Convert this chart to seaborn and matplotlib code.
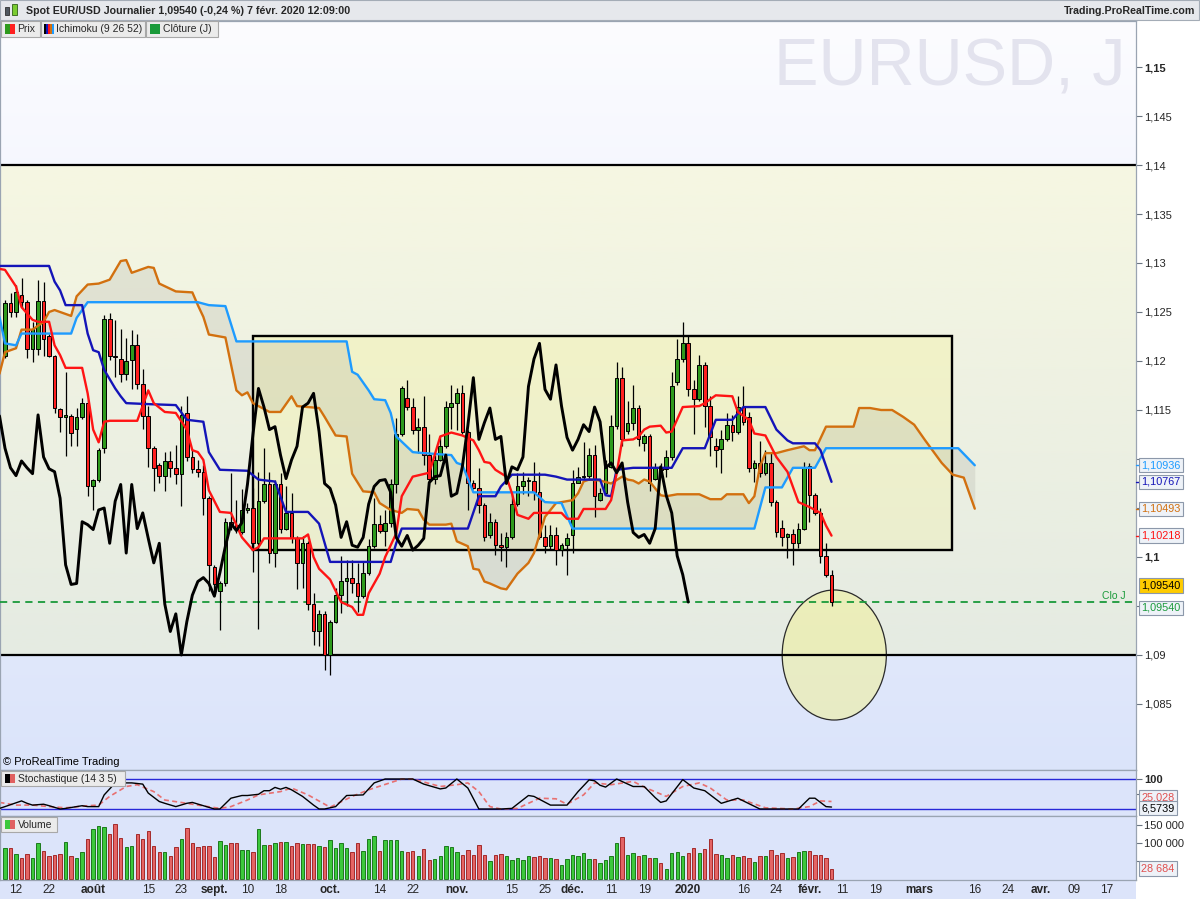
import warnings
warnings.filterwarnings("ignore")

import numpy as np
import pandas as pd
import matplotlib
matplotlib.use("Agg")
import matplotlib.pyplot as plt
import matplotlib.colors as mcolors
import matplotlib.transforms as mtransforms
from matplotlib.patches import Rectangle, Ellipse
import seaborn as sns

# ---------------------------------------------------------------- data
first_session = "2019-07-10"
calendar_end = "2020-05-01"
closed_days = ["2019-12-25", "2020-01-01"]

opens = [
    1.1205, 1.1259, 1.1250, 1.1267, 1.1260, 1.1212, 1.1212, 1.1261, 1.1226, 1.1205,
    1.1151, 1.1143, 1.1144, 1.1131, 1.1143, 1.1157, 1.1072, 1.1079, 1.1111, 1.1243,
    1.1205, 1.1202, 1.1187, 1.1201, 1.1216, 1.1177, 1.1144, 1.1111, 1.1094, 1.1083,
    1.1098, 1.1091, 1.1085, 1.1147, 1.1102, 1.1090, 1.1087, 1.1060, 1.0990, 1.0965,
    1.0973, 1.1036, 1.1033, 1.1025, 1.1048, 1.1050, 1.1014, 1.1057, 1.1074, 1.1004,
    1.1074, 1.1029, 1.1045, 1.1019, 1.0994, 1.1014, 1.0952, 1.0924, 1.0942, 1.0900,
    1.0934, 1.0961, 1.0975, 1.0979, 1.0973, 1.0960, 1.0984, 1.1011, 1.1034, 1.1027,
    1.1035, 1.1074, 1.1125, 1.1162, 1.1153, 1.1130, 1.1133, 1.1104, 1.1080, 1.1099,
    1.1113, 1.1153, 1.1157, 1.1167, 1.1128, 1.1075, 1.1070, 1.1053, 1.1022, 1.1036,
    1.1012, 1.1010, 1.1020, 1.1054, 1.1072, 1.1078, 1.1078, 1.1066, 1.1020, 1.1011,
    1.1022, 1.1007, 1.1012, 1.1022, 1.1076, 1.1082, 1.1083, 1.1104, 1.1058, 1.1065,
    1.1092, 1.1134, 1.1183, 1.1129, 1.1137, 1.1152, 1.1116, 1.1123, 1.1080, 1.1092,
    1.1090, 1.1102, 1.1179, 1.1202, 1.1218, 1.1171, 1.1161, 1.1196, 1.1154, 1.1113,
    1.1110, 1.1120, 1.1135, 1.1128, 1.1153, 1.1143, 1.1091, 1.1096, 1.1086, 1.1096,
    1.1056, 1.1030, 1.1020, 1.1023, 1.1014, 1.1029, 1.1093, 1.1063, 1.1045, 1.1001,
    1.0982,
]
highs = [
    1.1262, 1.1269, 1.1278, 1.1285, 1.1262, 1.1240, 1.1283, 1.1281, 1.1228, 1.1206,
    1.1152, 1.1189, 1.1146, 1.1152, 1.1162, 1.1160, 1.1080, 1.1111, 1.1247, 1.1249,
    1.1242, 1.1233, 1.1223, 1.1232, 1.1228, 1.1192, 1.1154, 1.1113, 1.1096, 1.1107,
    1.1108, 1.1114, 1.1154, 1.1164, 1.1109, 1.1099, 1.1094, 1.1062, 1.0992, 1.0975,
    1.1040, 1.1086, 1.1058, 1.1069, 1.1055, 1.1070, 1.1087, 1.1111, 1.1087, 1.1079,
    1.1086, 1.1072, 1.1065, 1.1021, 1.1021, 1.1016, 1.0963, 1.0946, 1.0945, 1.0936,
    1.0968, 1.1001, 1.0997, 1.0997, 1.0994, 1.0995, 1.1018, 1.1060, 1.1043, 1.1048,
    1.1080, 1.1142, 1.1174, 1.1181, 1.1162, 1.1142, 1.1164, 1.1125, 1.1104, 1.1123,
    1.1159, 1.1176, 1.1172, 1.1176, 1.1130, 1.1079, 1.1091, 1.1055, 1.1045, 1.1039,
    1.1024, 1.1026, 1.1065, 1.1086, 1.1087, 1.1082, 1.1097, 1.1087, 1.1033, 1.1033,
    1.1031, 1.1014, 1.1024, 1.1089, 1.1092, 1.1117, 1.1111, 1.1114, 1.1070, 1.1099,
    1.1145, 1.1199, 1.1194, 1.1159, 1.1176, 1.1155, 1.1125, 1.1125, 1.1096, 1.1096,
    1.1109, 1.1189, 1.1222, 1.1240, 1.1225, 1.1181, 1.1206, 1.1199, 1.1164, 1.1121,
    1.1130, 1.1147, 1.1145, 1.1164, 1.1174, 1.1148, 1.1099, 1.1118, 1.1109, 1.1106,
    1.1058, 1.1038, 1.1024, 1.1029, 1.1035, 1.1097, 1.1096, 1.1065, 1.1050, 1.1014,
    1.0987,
]
lows = [
    1.1203, 1.1245, 1.1245, 1.1254, 1.1203, 1.1199, 1.1206, 1.1205, 1.1204, 1.1147,
    1.1128, 1.1103, 1.1113, 1.1113, 1.1141, 1.1062, 1.1048, 1.1077, 1.1106, 1.1201,
    1.1184, 1.1179, 1.1181, 1.1171, 1.1171, 1.1131, 1.1092, 1.1067, 1.1075, 1.1067,
    1.1082, 1.1074, 1.1052, 1.1098, 1.1086, 1.1082, 1.1043, 1.0965, 1.0960, 1.0926,
    1.0970, 1.1028, 1.1024, 1.1023, 1.1045, 1.0985, 1.0927, 1.1055, 1.0994, 1.0990,
    1.1024, 1.1028, 1.1014, 1.0967, 1.0968, 1.0946, 1.0910, 1.0909, 1.0885, 1.0880,
    1.0933, 1.0943, 1.0950, 1.0963, 1.0944, 1.0958, 1.0982, 1.1009, 1.1024, 1.1011,
    1.1031, 1.1065, 1.1123, 1.1150, 1.1126, 1.1106, 1.1094, 1.1075, 1.1074, 1.1098,
    1.1111, 1.1131, 1.1130, 1.1126, 1.1048, 1.1069, 1.1045, 1.1016, 1.1019, 1.1002,
    1.0996, 1.0990, 1.1018, 1.1052, 1.1064, 1.1062, 1.1058, 1.1018, 1.1004, 1.1007,
    1.0992, 1.1001, 1.0982, 1.1004, 1.1075, 1.1080, 1.1079, 1.1041, 1.1057, 1.1064,
    1.1091, 1.1131, 1.1113, 1.1126, 1.1130, 1.1113, 1.1108, 1.1067, 1.1079, 1.1086,
    1.1082, 1.1099, 1.1176, 1.1199, 1.1164, 1.1125, 1.1159, 1.1133, 1.1103, 1.1092,
    1.1086, 1.1118, 1.1118, 1.1126, 1.1135, 1.1087, 1.1077, 1.1082, 1.1084, 1.1052,
    1.1020, 1.1011, 1.0999, 1.0992, 1.1009, 1.1028, 1.1036, 1.1043, 1.0994, 1.0980,
    1.0950,
]
closes = [
    1.1259, 1.1250, 1.1270, 1.1260, 1.1212, 1.1233, 1.1261, 1.1222, 1.1205, 1.1152,
    1.1143, 1.1145, 1.1127, 1.1143, 1.1157, 1.1072, 1.1079, 1.1109, 1.1243, 1.1205,
    1.1204, 1.1187, 1.1200, 1.1216, 1.1177, 1.1144, 1.1111, 1.1091, 1.1083, 1.1098,
    1.1091, 1.1085, 1.1145, 1.1102, 1.1090, 1.1087, 1.1060, 1.0992, 1.0972, 1.0973,
    1.1036, 1.1033, 1.1028, 1.1048, 1.1050, 1.1014, 1.1057, 1.1074, 1.1004, 1.1074,
    1.1029, 1.1045, 1.1019, 1.0994, 1.1014, 1.0952, 1.0924, 1.0942, 1.0900, 1.0934,
    1.0961, 1.0975, 1.0979, 1.0973, 1.0960, 1.0984, 1.1011, 1.1034, 1.1027, 1.1035,
    1.1074, 1.1125, 1.1172, 1.1153, 1.1130, 1.1133, 1.1104, 1.1080, 1.1099, 1.1113,
    1.1153, 1.1157, 1.1167, 1.1128, 1.1075, 1.1070, 1.1053, 1.1020, 1.1036, 1.1012,
    1.1010, 1.1020, 1.1054, 1.1072, 1.1078, 1.1079, 1.1066, 1.1020, 1.1011, 1.1022,
    1.1007, 1.1012, 1.1019, 1.1076, 1.1082, 1.1083, 1.1104, 1.1062, 1.1065, 1.1092,
    1.1134, 1.1183, 1.1120, 1.1137, 1.1152, 1.1120, 1.1123, 1.1075, 1.1092, 1.1089,
    1.1102, 1.1174, 1.1202, 1.1218, 1.1171, 1.1161, 1.1196, 1.1154, 1.1122, 1.1109,
    1.1120, 1.1135, 1.1128, 1.1153, 1.1138, 1.1091, 1.1096, 1.1086, 1.1096, 1.1056,
    1.1025, 1.1020, 1.1023, 1.1014, 1.1029, 1.1092, 1.1063, 1.1045, 1.1001, 1.0982,
    1.0954,
]
volumes = [
    86500, 86500, 71000, 59200, 71000, 59200, 100200, 78300, 65600, 68300,
    71000, 102900, 65600, 59200, 75600, 111100, 141200, 149400, 146600, 124800,
    154800, 113800, 90200, 92900, 124800, 111100, 135700, 92000, 75600, 75600,
    65600, 89200, 111100, 142100, 100200, 90200, 92900, 92900, 62800, 105600,
    95600, 100200, 100200, 81100, 81100, 75600, 139300, 95600, 95600, 100200,
    102900, 102900, 92900, 100200, 97400, 97400, 97400, 92900, 90200, 108400,
    86500, 100200, 86500, 75600, 100200, 78300, 111100, 119300, 78300, 108400,
    108400, 108400, 78300, 75600, 78300, 64700, 83800, 53700, 56500, 64700,
    92000, 89200, 75600, 67400, 81100, 67400, 94700, 67400, 51000, 67400,
    70100, 64700, 53700, 59200, 53700, 64700, 61900, 64700, 59200, 59200,
    56500, 40100, 56500, 67400, 64700, 72900, 56500, 56500, 45500, 53700,
    64700, 100200, 116600, 67400, 72900, 64700, 67400, 59200, 59200, 45500,
    29100, 72900, 75600, 64700, 72900, 86500, 72900, 83800, 111100, 70100,
    67400, 59200, 67400, 61900, 64700, 59200, 48300, 64700, 64700, 81100,
    67400, 72900, 59200, 61900, 75600, 78300, 78300, 67400, 67400, 59200,
    28684,
]

# Ichimoku (9 26 52), read as (session index, price) vertices
tenkan_days = [-1, 0, 2, 3, 5, 6, 8, 9, 10, 11, 14, 15, 16, 17, 18, 19, 24, 26, 27, 29,
               31, 33, 34, 35, 36, 37, 39, 41, 43, 45, 46, 47, 54, 55, 56, 57, 59, 61, 63, 64,
               65, 66, 68, 69, 71, 72, 74, 77, 79, 81, 83, 85, 86, 87, 88, 89, 91, 92, 93, 95,
               96, 101, 102, 104, 105, 109, 110, 111, 112, 114, 115, 116, 117, 119, 120, 121, 123, 126, 127, 129,
               132, 133, 135, 136, 138, 140, 142, 144, 146, 148, 149, 150]
tenkan_vals = [1.1294, 1.1293, 1.1276, 1.1255, 1.1242, 1.1240, 1.1240, 1.1216, 1.1206, 1.1193,
               1.1193, 1.1167, 1.1130, 1.1117, 1.1138, 1.1139, 1.1139, 1.1170, 1.1157, 1.1148,
               1.1147, 1.1130, 1.1109, 1.1107, 1.1099, 1.1068, 1.1046, 1.1045, 1.1020, 1.1007,
               1.1010, 1.1019, 1.1019, 1.1023, 1.1000, 1.0988, 1.0977, 1.0954, 1.0949, 1.0941,
               1.0941, 1.0963, 1.0983, 1.1000, 1.1024, 1.1062, 1.1082, 1.1086, 1.1123, 1.1127,
               1.1124, 1.1119, 1.1109, 1.1097, 1.1096, 1.1089, 1.1082, 1.1065, 1.1043, 1.1039,
               1.1045, 1.1045, 1.1039, 1.1039, 1.1049, 1.1049, 1.1058, 1.1085, 1.1119, 1.1120,
               1.1123, 1.1130, 1.1133, 1.1134, 1.1127, 1.1128, 1.1153, 1.1154, 1.1157, 1.1165,
               1.1164, 1.1148, 1.1140, 1.1126, 1.1124, 1.1102, 1.1087, 1.1056, 1.1051, 1.1045,
               1.1032, 1.10218]

kijun_days = [-1, 8, 9, 10, 11, 14, 15, 16, 17, 18, 20, 21, 22, 26, 31, 33, 36, 37, 39, 44,
              46, 49, 51, 55, 57, 59, 70, 71, 72, 84, 86, 89, 90, 92, 98, 100, 102, 108, 109, 110,
              111, 114, 121, 123, 127, 129, 132, 134, 138, 140, 142, 143, 147, 148, 150]
kijun_vals = [1.1297, 1.1297, 1.1281, 1.1272, 1.1257, 1.1257, 1.1228, 1.1211, 1.1209, 1.1191,
              1.1172, 1.1164, 1.1157, 1.1156, 1.1155, 1.1140, 1.1138, 1.1107, 1.1089, 1.1088,
              1.1079, 1.1077, 1.1046, 1.1046, 1.1034, 1.0995, 1.0995, 1.1014, 1.1029, 1.1029,
              1.1062, 1.1062, 1.1072, 1.1084, 1.1084, 1.1082, 1.1079, 1.1079, 1.1063, 1.1062,
              1.1089, 1.1091, 1.1091, 1.1111, 1.1111, 1.1140, 1.1140, 1.1153, 1.1153, 1.1130,
              1.1119, 1.1116, 1.1116, 1.1109, 1.10767]

span_a_days = [-1, 0, 2, 3, 5, 7, 8, 9, 11, 12, 13, 15, 17, 19, 21, 22, 23, 26, 27, 28,
               31, 34, 35, 36, 37, 40, 42, 43, 44, 45, 48, 50, 52, 53, 57, 58, 60, 62, 63, 65,
               67, 68, 70, 72, 73, 75, 76, 77, 80, 81, 82, 84, 85, 86, 87, 88, 90, 91, 93, 95,
               96, 98, 100, 103, 104, 105, 106, 108, 110, 112, 113, 114, 115, 116, 117, 119, 120, 122, 126, 128,
               130, 131, 134, 135, 136, 137, 138, 140, 142, 145, 146, 147, 149, 154, 155, 157, 159, 161, 163, 165,
               167, 170, 172, 174, 176]
span_a_vals = [1.1187, 1.1209, 1.1213, 1.1232, 1.1232, 1.1240, 1.1250, 1.1252, 1.1248, 1.1246,
               1.1266, 1.1278, 1.1279, 1.1283, 1.1302, 1.1303, 1.1290, 1.1296, 1.1295, 1.1279,
               1.1271, 1.1270, 1.1257, 1.1245, 1.1227, 1.1224, 1.1170, 1.1165, 1.1168, 1.1157,
               1.1148, 1.1148, 1.1164, 1.1154, 1.1152, 1.1143, 1.1124, 1.1123, 1.1085, 1.1067,
               1.1066, 1.1055, 1.1048, 1.1045, 1.1049, 1.1048, 1.1038, 1.1033, 1.1033, 1.1034,
               1.1016, 1.1011, 1.0988, 1.0987, 1.0975, 1.0973, 1.0968, 1.0967, 1.0983, 1.0994,
               1.1004, 1.1041, 1.1055, 1.1058, 1.1065, 1.1077, 1.1079, 1.1078, 1.1075, 1.1082,
               1.1079, 1.1078, 1.1075, 1.1079, 1.1077, 1.1063, 1.1062, 1.1064, 1.1064, 1.1059,
               1.1059, 1.1064, 1.1064, 1.1055, 1.1062, 1.1092, 1.1106, 1.1106, 1.1109, 1.1113,
               1.1109, 1.1109, 1.1133, 1.1133, 1.1152, 1.1152, 1.1150, 1.1150, 1.1143, 1.1135,
               1.1119, 1.1096, 1.1084, 1.1081, 1.10493]

span_b_days = [-1, 0, 2, 3, 12, 13, 15, 35, 37, 40, 42, 62, 63, 64, 66, 67, 69, 70, 71, 74,
               76, 81, 82, 83, 85, 96, 98, 101, 103, 136, 138, 141, 143, 147, 149, 173, 176]
span_b_vals = [1.1245, 1.1218, 1.1216, 1.1228, 1.1228, 1.1244, 1.1260, 1.1260, 1.1257, 1.1256,
               1.1220, 1.1220, 1.1189, 1.1186, 1.1170, 1.1161, 1.1160, 1.1147, 1.1123, 1.1107,
               1.1106, 1.1104, 1.1096, 1.1094, 1.1066, 1.1066, 1.1056, 1.1055, 1.1029, 1.1029,
               1.1071, 1.1071, 1.1091, 1.1091, 1.1111, 1.1111, 1.10936]

chikou_shift = 26

# Stochastique (14 3 5)
stoch_k_days = [-1, 0, 3, 4, 5, 7, 8, 10, 11, 14, 15, 17, 18, 20, 21, 23, 25, 26, 28, 29,
                31, 33, 34, 36, 38, 39, 41, 43, 44, 46, 47, 48, 49, 50, 51, 52, 54, 56, 57, 58,
                60, 62, 65, 67, 69, 74, 76, 79, 80, 82, 84, 86, 90, 92, 95, 96, 99, 102, 104, 106,
                107, 108, 109, 111, 114, 116, 118, 119, 120, 123, 125, 127, 130, 133, 137, 144, 146, 147, 149, 150]
stoch_k_vals = [2, 8, 27, 19, 13, 16, 11, 0, 2, 11, 8, 8, 47, 87, 87, 87, 83, 53, 25, 19,
                8, 19, 22, 11, 0, 0, 36, 45, 45, 49, 61, 61, 72, 66, 72, 64, 42, 13, 0, 0,
                8, 45, 47, 87, 100, 100, 83, 67, 70, 100, 70, 0, 0, 2, 45, 42, 13, 13, 58, 97,
                94, 79, 73, 100, 75, 75, 38, 22, 27, 98, 70, 61, 19, 36, 0, 0, 36, 36, 8, 6.5739]
stoch_d_days = [-1, 2, 5, 8, 11, 15, 17, 19, 22, 24, 27, 29, 33, 35, 39, 41, 44, 46, 50, 52,
                55, 59, 63, 66, 72, 74, 79, 82, 84, 86, 88, 90, 93, 97, 100, 102, 105, 107, 110, 114,
                116, 120, 123, 126, 128, 131, 134, 138, 143, 146, 148, 150]
stoch_d_vals = [22, 13, 13, 8, 4, 11, 13, 42, 75, 81, 58, 30, 19, 13, 2, 8, 30, 47, 58, 70,
                47, 6, 42, 64, 100, 100, 75, 81, 87, 58, 8, 0, 2, 36, 34, 16, 47, 87, 81, 92,
                73, 42, 75, 87, 70, 30, 30, 4, 0, 8, 27, 25.028]

tick_dates = ["2019-07-12", "2019-07-22", "2019-08-01", "2019-08-15", "2019-08-23",
              "2019-09-02", "2019-09-10", "2019-09-18", "2019-10-01", "2019-10-14",
              "2019-10-22", "2019-11-01", "2019-11-15", "2019-11-25", "2019-12-02",
              "2019-12-11", "2019-12-19", "2020-01-02", "2020-01-16", "2020-01-24",
              "2020-02-03", "2020-02-11", "2020-02-19", "2020-03-02", "2020-03-16",
              "2020-03-24", "2020-04-01", "2020-04-09", "2020-04-17"]
tick_labels = ["12", "22", "août", "15", "23", "sept.", "10", "18", "oct.", "14", "22",
               "nov.", "15", "25", "déc.", "11", "19", "2020", "16", "24", "févr.", "11",
               "19", "mars", "16", "24", "avr.", "09", "17"]
month_labels = ["août", "sept.", "oct.", "nov.", "déc.", "2020", "févr.", "mars", "avr."]

price_ticks = [1.085, 1.09, 1.095, 1.1, 1.105, 1.11, 1.115, 1.12, 1.125, 1.13, 1.135, 1.14, 1.145, 1.15]
covered_price_ticks = [1.095, 1.105, 1.11]   # hidden behind the value boxes
zone_levels = [1.09, 1.14]

# ---------------------------------------------------------------- style
sns.set_theme(style="white")
plt.rcParams["font.family"] = ["Liberation Sans", "DejaVu Sans"]

GREEN = "#2E9A1C"
RED = "#FF2020"
VOL_GREEN, VOL_GREEN_EDGE = "#3CC83C", "#1C7A1C"
VOL_RED, VOL_RED_EDGE = "#E46464", "#A42A2A"
TENKAN, KIJUN, SPAN_A, SPAN_B = "#FF1414", "#1414B8", "#D2700F", "#1E9BFF"
CLOSE_GREEN = "#1A9A3A"
PANEL_BG = "#DCE4FA"
SPINE = "#9AA4B2"

sessions = pd.bdate_range(first_session, calendar_end)
sessions = sessions[~sessions.isin(pd.to_datetime(closed_days))]
day_of = {d: i for i, d in enumerate(sessions)}

X_LEFT, X_RIGHT = -0.907, 205.26
W, H = 1200, 900


def fx(px):
    return px / W


def fy(py):
    return 1 - py / H


def vgradient(ax, x0, x1, y0, y1, top, bottom, z):
    t = np.linspace(0, 1, 256)[:, None, None]
    c0 = np.array(mcolors.to_rgb(top))
    c1 = np.array(mcolors.to_rgb(bottom))
    ax.imshow(c0 + (c1 - c0) * t, extent=(x0, x1, y0, y1), origin="upper",
              aspect="auto", zorder=z, interpolation="bilinear")


def px_rect(fig, x, y, w, h, **kw):
    r = Rectangle((fx(x), fy(y + h)), w / W, h / H, transform=fig.transFigure, **kw)
    fig.add_artist(r)
    return r


def value_box(ax, y, text, color, face="#EEF2F8", size=7.8):
    ax.annotate(text, xy=(1.0048, y), xycoords=("axes fraction", "data"),
                ha="left", va="center", fontsize=size, color=color,
                annotation_clip=False, zorder=20,
                bbox=dict(boxstyle="square,pad=0.2", fc=face, ec="#8C98AA", lw=0.8))


def fr(v, nd):
    return f"{v:.{nd}f}".replace(".", ",")


fig = plt.figure(figsize=(12, 9), dpi=100, facecolor="white")
ax = fig.add_axes([0, fy(770), fx(1136), (770 - 21) / H])
axs = fig.add_axes([0, fy(816), fx(1136), 46 / H], sharex=ax)
axv = fig.add_axes([0, fy(880), fx(1136), 64 / H], sharex=ax)

# ---------------------------------------------------------------- main panel
Y_TOP, Y_BOT = 1.154694, 1.078265
vgradient(ax, X_LEFT, X_RIGHT, Y_BOT, Y_TOP, "#FCFCFF", "#DBE4FA", 0)
vgradient(ax, X_LEFT, X_RIGHT, zone_levels[0], zone_levels[1], "#F6F7E2", "#E5EBE2", 0.1)
# user-drawn range box
vgradient(ax, 45.0, 171.9, 1.1007, 1.1226, "#F2F3C8", "#EBEECF", 0.2)
ax.add_patch(Rectangle((45.0, 1.1007), 126.9, 0.0219, fill=False, ec="black", lw=1.7, zorder=2.2))

x = np.arange(len(closes))
o, h, l, c = map(np.array, (opens, highs, lows, closes))
up = c >= o

# cloud
grid = np.linspace(-1, 176, 3000)
sa = np.interp(grid, span_a_days, span_a_vals)
sb = np.interp(grid, span_b_days, span_b_vals)
ax.fill_between(grid, sa, sb, color="#9C9C92", alpha=0.2, lw=0, zorder=0.5)

ax.text(fx(1125), fy(85), "EURUSD, J", transform=fig.transFigure, ha="right",
        va="baseline", fontsize=48, color="#E3E3EE", zorder=0.8)

for lev in zone_levels:
    ax.axhline(lev, color="black", lw=1.6, zorder=2.5)

ax.add_patch(Ellipse((150.5, 1.0900), 18.9, 0.01327, fc="#EFF0A0", alpha=0.6,
                     ec="none", zorder=1.5))
ax.add_patch(Ellipse((150.5, 1.0900), 18.9, 0.01327, fill=False, ec="#2A2A2A",
                     lw=0.9, zorder=1.6))

ax.axhline(closes[-1], color=CLOSE_GREEN, lw=1.3, ls=(0, (4, 3)), zorder=2.6)
ax.text(0.991, closes[-1] + 0.0001, "Clo J", transform=mtransforms.blended_transform_factory(ax.transAxes, ax.transData),
        ha="right", va="bottom", fontsize=7.5, color=CLOSE_GREEN, zorder=2.6)

# candles
ax.vlines(x, l, h, color="black", lw=0.9, zorder=3)
body_lo = np.minimum(o, c)
body_h = np.maximum(np.abs(c - o), 0.00007)
ax.bar(x, body_h, bottom=body_lo, width=0.66, color=np.where(up, GREEN, RED),
       edgecolor="black", linewidth=0.7, zorder=4)

# ichimoku lines
sns.lineplot(x=span_a_days, y=span_a_vals, ax=ax, color=SPAN_A, lw=1.7, sort=False, estimator=None, zorder=5)
sns.lineplot(x=span_b_days, y=span_b_vals, ax=ax, color=SPAN_B, lw=1.7, sort=False, estimator=None, zorder=5)
sns.lineplot(x=kijun_days, y=kijun_vals, ax=ax, color=KIJUN, lw=1.7, sort=False, estimator=None, zorder=5)
sns.lineplot(x=tenkan_days, y=tenkan_vals, ax=ax, color=TENKAN, lw=1.7, sort=False, estimator=None, zorder=5)
chik = slice(chikou_shift - 1, None)
sns.lineplot(x=x[chik] - chikou_shift, y=c[chik], ax=ax, color="black", lw=2.1, sort=False, estimator=None, zorder=5)

ax.set_xlim(X_LEFT, X_RIGHT)
ax.set_ylim(Y_BOT, Y_TOP)
ax.set_xlabel("")
ax.set_ylabel("")
ax.yaxis.tick_right()
ax.set_yticks(price_ticks)
ax.set_yticklabels(["" if v in covered_price_ticks else f"{v:g}".replace(".", ",") for v in price_ticks])
for t in ax.get_yticklabels():
    if t.get_text() in ("1,15", "1,1"):
        t.set_fontweight("bold")
        t.set_fontsize(8.8)
ax.tick_params(axis="y", right=True, length=4, width=0.8, color="#6A7480", pad=2, labelsize=8)
ax.tick_params(axis="x", bottom=False, labelbottom=False)

ax.text(0.003, 0.004, "© ProRealTime Trading", transform=ax.transAxes, fontsize=8,
        ha="left", va="bottom", color="black", zorder=6)

blend = mtransforms.blended_transform_factory(ax.transAxes, ax.transData)
for val, col in ((span_b_vals[-1], SPAN_B), (kijun_vals[-1], KIJUN),
                 (span_a_vals[-1], SPAN_A), (tenkan_vals[-1], TENKAN)):
    ax.plot([1.0, 1.005], [val, val], transform=blend, color=col, lw=1, clip_on=False, zorder=19)
    value_box(ax, val, fr(val, 5), col)
value_box(ax, closes[-1] + 0.0017, fr(closes[-1], 5), "black", face="#FFCC00")
value_box(ax, closes[-1] - 0.0006, fr(closes[-1], 5), CLOSE_GREEN)

# ---------------------------------------------------------------- stochastic
axs.set_facecolor(PANEL_BG)
axs.axhline(0, color="#2828D8", lw=1, zorder=1)
axs.axhline(100, color="#2828D8", lw=1, zorder=1)
sns.lineplot(x=stoch_d_days, y=stoch_d_vals, ax=axs, color="#E87070", lw=1.2,
             sort=False, estimator=None, zorder=2).lines[-1].set_linestyle((0, (3, 2)))
sns.lineplot(x=stoch_k_days, y=stoch_k_vals, ax=axs, color="black", lw=1.0, sort=False, estimator=None, zorder=3)
axs.set_ylim(-23.3, 130)
axs.set_xlim(X_LEFT, X_RIGHT)
axs.set_xlabel("")
axs.set_ylabel("")
axs.yaxis.tick_right()
axs.set_yticks([50, 100])
axs.set_yticklabels(["", "100"])
axs.get_yticklabels()[1].set_fontweight("bold")
axs.get_yticklabels()[1].set_fontsize(9)
axs.tick_params(axis="y", right=True, length=4, width=0.8, color="#6A7480", pad=2, labelsize=8)
axs.tick_params(axis="x", bottom=False, labelbottom=False)
value_box(axs, 40, fr(stoch_d_vals[-1], 3), "#E05050")
value_box(axs, 3.3, fr(stoch_k_vals[-1], 4), "black")

# ---------------------------------------------------------------- volume
axv.set_facecolor(PANEL_BG)
axv.bar(x, volumes, width=0.62, color=np.where(up, VOL_GREEN, VOL_RED),
        edgecolor=np.where(up, VOL_GREEN_EDGE, VOL_RED_EDGE), linewidth=0.7, zorder=2)
axv.set_ylim(-1500, 176000)
axv.set_xlim(X_LEFT, X_RIGHT)
axv.yaxis.tick_right()
axv.set_yticks([50000, 100000, 150000])
axv.set_yticklabels(["", "100 000", "150 000"])
axv.tick_params(axis="y", right=True, length=4, width=0.8, color="#6A7480", pad=2, labelsize=8)
value_box(axv, 30000, f"{volumes[-1]:,}".replace(",", " "), "#E05050")

tick_pos = [day_of[pd.Timestamp(d)] for d in tick_dates]
axv.set_xticks(tick_pos)
axv.set_xticklabels(tick_labels)
for t in axv.get_xticklabels():
    if t.get_text() in month_labels:
        t.set_fontweight("bold")
        t.set_fontsize(9)
axv.tick_params(axis="x", bottom=True, length=0, pad=3, labelsize=8.5)

for a in (ax, axs, axv):
    for s in a.spines.values():
        s.set_color(SPINE)
        s.set_linewidth(0.9)
    a.grid(False)

# ---------------------------------------------------------------- frame, header, legends
px_rect(fig, 0, 880, 1136, 19, fc=PANEL_BG, ec="none", zorder=-1)
px_rect(fig, 0, 0, 1199, 20, fc="#E6E8EC", ec="#A4ACB6", lw=0.8, zorder=5)
px_rect(fig, 5, 7, 4, 8, fc="#505860", ec="#303030", lw=0.6, zorder=6)
px_rect(fig, 12, 4, 5, 11, fc="#7ACC30", ec="#306018", lw=0.6, zorder=6)
fig.text(fx(26), fy(10.5), "Spot EUR/USD Journalier 1,09540 (-0,24 %) 7 févr. 2020 12:09:00",
         fontsize=7.7, fontweight="bold", va="center", ha="left", zorder=7)
fig.text(fx(1195), fy(10.5), "Trading.ProRealTime.com", fontsize=7.7, fontweight="bold",
         va="center", ha="right", zorder=7)

legend_boxes = [(1, 39, "Prix", 17), (41, 104, "Ichimoku (9 26 52)", 56), (146, 72, "Clôture (J)", 163)]
for bx, bw, label, tx in legend_boxes:
    px_rect(fig, bx, 21, bw, 16, fc="#EBEBEB", ec="#A8A8A8", lw=0.8, zorder=5)
    fig.text(fx(tx), fy(29.5), label, fontsize=7.5, va="center", ha="left", zorder=7)
px_rect(fig, 5, 24, 5, 10, fc=GREEN, ec="none", zorder=6)
px_rect(fig, 10, 24, 5, 10, fc=RED, ec="none", zorder=6)
for i, col in enumerate(["black", KIJUN, TENKAN, SPAN_A, SPAN_B]):
    px_rect(fig, 44 + 2 * i, 24, 2, 10, fc=col, ec="none", zorder=6)
px_rect(fig, 150, 24, 10, 10, fc=CLOSE_GREEN, ec="none", zorder=6)

px_rect(fig, 1, 771, 124, 15, fc="#EBEBEB", ec="#A8A8A8", lw=0.8, zorder=5)
px_rect(fig, 5, 774, 5, 9, fc="black", ec="none", zorder=6)
px_rect(fig, 10, 774, 5, 9, fc="#E06060", ec="none", zorder=6)
fig.text(fx(18), fy(778.5), "Stochastique (14 3 5)", fontsize=7.5, va="center", ha="left", zorder=7)

px_rect(fig, 1, 817, 56, 15, fc="#EBEBEB", ec="#A8A8A8", lw=0.8, zorder=5)
px_rect(fig, 5, 820, 5, 9, fc=VOL_GREEN, ec="none", zorder=6)
px_rect(fig, 10, 820, 5, 9, fc="#E06060", ec="none", zorder=6)
fig.text(fx(18), fy(824.5), "Volume", fontsize=7.5, va="center", ha="left", zorder=7)

fig.savefig("out.png", dpi=100, facecolor="white")
